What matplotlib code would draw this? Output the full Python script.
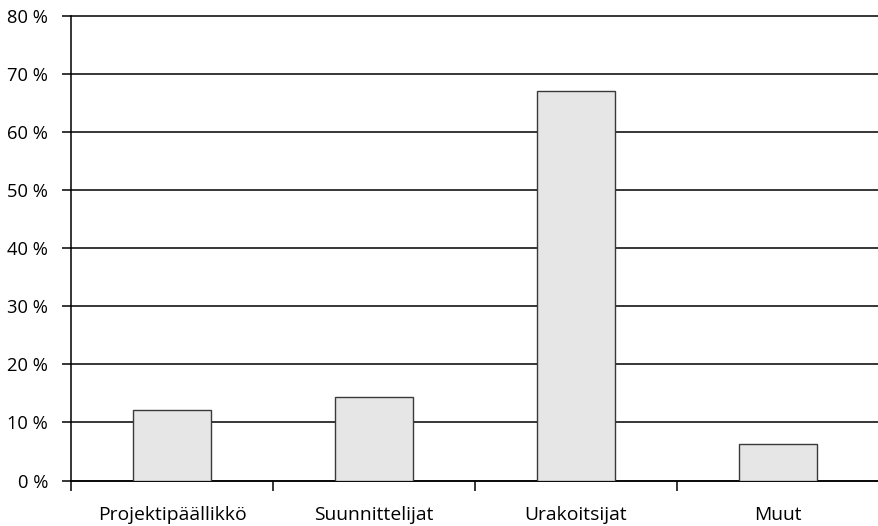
import matplotlib
matplotlib.use("Agg")
import matplotlib.pyplot as plt
import numpy as np

categories = ["Projektipäällikkö", "Suunnittelijat", "Urakoitsijat", "Muut"]
values = [12.1, 14.4, 67.0, 6.2]
yticks = [0, 10, 20, 30, 40, 50, 60, 70, 80]
ytick_labels = [f"{v} %" for v in yticks]

plt.rcParams['font.family'] = ['Open Sans', 'DejaVu Sans']

fig = plt.figure(figsize=(8.79, 5.26), dpi=100)
ax = fig.add_axes([71/879, 1 - 480.5/526, 808/879, (480.5 - 15.7)/526])

x = np.arange(len(categories))
ax.bar(x, values, width=0.39, color="#e6e6e7", edgecolor="#3a3a3a", linewidth=1.0, zorder=3)

ax.set_xlim(-0.5, len(categories) - 0.5)
ax.set_ylim(0, 80)
ax.set_yticks(yticks)
ax.set_yticklabels(ytick_labels, fontsize=13.2)
ax.yaxis.grid(True, color="black", linewidth=1.1, zorder=1)
for gl in ax.get_ygridlines():
    gl.set_clip_on(False)
ax.tick_params(axis="y", length=6.5, width=1.1, direction="out", pad=10, colors="black")

ax.set_xticks(x)
ax.set_xticklabels(categories, fontsize=13.9)
ax.set_xticks(np.arange(-0.5, len(categories) - 0.5, 1.0), minor=True)
ax.tick_params(axis="x", which="major", length=0, pad=18.5)
ax.tick_params(axis="x", which="minor", length=7, width=1.1, direction="out")

for s in ["top", "right"]:
    ax.spines[s].set_visible(False)
ax.spines["bottom"].set_linewidth(1.1)
ax.spines["left"].set_linewidth(1.1)

fig.savefig("out.png", dpi=100)
